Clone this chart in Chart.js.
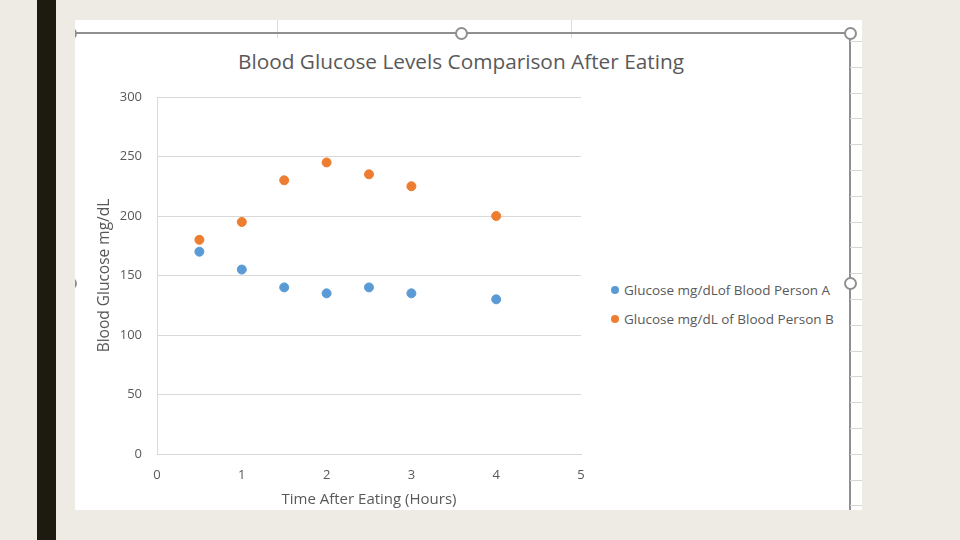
<!DOCTYPE html>
<html>
<head>
<meta charset="utf-8">
<script src="https://cdn.jsdelivr.net/npm/chart.js@4.4.1/dist/chart.umd.min.js"></script>
<style>
  html, body { margin: 0; padding: 0; }
  body { width: 960px; height: 540px; background: #eeebe4; position: relative; overflow: hidden; font-family: "Open Sans", sans-serif; }
  #bar { position: absolute; left: 37px; top: 0; width: 19px; height: 540px; background: #1b1b0f; }
  #sheet { position: absolute; left: 75px; top: 20px; width: 787px; height: 490px; background: #fff; overflow: hidden; }
  .cellv { position: absolute; top: 0; width: 1px; height: 18px; background: #dcdcdc; }
  .cellh { position: absolute; left: 775px; width: 12px; height: 1px; background: #d6d6d6; }
  #frameTop { position: absolute; left: 0; top: 12px; width: 775px; height: 2px; background: #8f8f8f; }
  #frameRight { position: absolute; left: 774px; top: 13px; width: 2px; height: 480px; background: #8f8f8f; }
  .handle { position: absolute; width: 9px; height: 9px; border: 2px solid #8f8f8f; border-radius: 50%; background: #fff; }
  #title { position: absolute; left: 0; width: 922px; top: 47px; text-align: center; font-size: 20.8px; color: #595959; white-space: nowrap; }
  #legend { position: absolute; left: 611px; top: 279px; font-size: 13.5px; color: #595959; }
  #legend div { height: 29px; line-height: 22px; white-space: nowrap; }
  #legend span { display: inline-block; width: 8px; height: 8px; border-radius: 50%; margin-right: 5px; vertical-align: 1px; }
  #c { position: absolute; left: 0; top: 0; }
</style>
</head>
<body>
<div id="bar"></div>
<div id="sheet">
  <div class="cellv" style="left:202px"></div>
  <div class="cellv" style="left:496px"></div>
  <div id="frameTop"></div>
  <div id="frameRight"></div>
</div>
<div id="title">Blood Glucose Levels Comparison After Eating</div>
<div id="legend"></div>
<canvas id="c" width="960" height="540"></canvas>
<script>
// readings taken off the chart
const hours = [0.5, 1, 1.5, 2, 2.5, 3, 4];
const personA = [170, 155, 140, 135, 140, 135, 130];
const personB = [180, 195, 230, 245, 235, 225, 200];
const seriesNames = ["Glucose mg/dLof Blood Person A", "Glucose mg/dL of Blood Person B"];
const seriesColors = ["#5b9bd5", "#ed7d31"];
const xTicks = [0, 1, 2, 3, 4, 5];
const yTicks = [0, 50, 100, 150, 200, 250, 300];

// spreadsheet rows peeking out on the right, and selection handles
var sheet = document.getElementById("sheet");
for (var y = 21; y < 490; y += 25.8) {
  var d = document.createElement("div");
  d.className = "cellh";
  d.style.top = Math.round(y) + "px";
  sheet.appendChild(d);
}
[[-11, 7], [380, 7], [769, 7], [769, 257], [-11, 257]].forEach(function(p) {
  var h = document.createElement("div");
  h.className = "handle";
  h.style.left = p[0] + "px";
  h.style.top = p[1] + "px";
  sheet.appendChild(h);
});

var legend = document.getElementById("legend");
seriesNames.forEach(function(name, i) {
  var row = document.createElement("div");
  row.innerHTML = '<span style="background:' + seriesColors[i] + '"></span>' + name;
  legend.appendChild(row);
});

function pts(ys) {
  return hours.map(function(h, i) { return {x: h, y: ys[i]}; });
}

var tickFont = {family: "Open Sans", size: 13};
var titleFont = {family: "Open Sans", size: 15};

new Chart(document.getElementById("c"), {
  type: "scatter",
  data: {
    datasets: [
      {label: seriesNames[0], data: pts(personA), backgroundColor: seriesColors[0], borderColor: seriesColors[0], pointRadius: 4.5, pointHoverRadius: 4.5},
      {label: seriesNames[1], data: pts(personB), backgroundColor: seriesColors[1], borderColor: seriesColors[1], pointRadius: 4.5, pointHoverRadius: 4.5}
    ]
  },
  options: {
    responsive: false,
    animation: false,
    layout: {padding: {left: 91, right: 379, top: 97, bottom: 31}},
    plugins: {legend: {display: false}, tooltip: {enabled: false}},
    scales: {
      x: {
        type: "linear", min: xTicks[0], max: xTicks[xTicks.length - 1],
        afterBuildTicks: function(s) { s.ticks = xTicks.map(function(v) { return {value: v}; }); },
        afterFit: function(s) { s.height = 55; },
        ticks: {color: "#595959", font: tickFont, padding: 13},
        grid: {display: false, drawTicks: false},
        border: {display: true, color: "#d9d9d9"},
        title: {display: true, text: "Time After Eating (Hours)", color: "#595959", font: titleFont, padding: {top: 0, bottom: 0}}
      },
      y: {
        min: yTicks[0], max: yTicks[yTicks.length - 1],
        afterBuildTicks: function(s) { s.ticks = yTicks.map(function(v) { return {value: v}; }); },
        afterFit: function(s) { s.width = 66; },
        ticks: {color: "#595959", font: tickFont, padding: 15},
        grid: {color: "#d9d9d9", drawTicks: false},
        border: {display: true, color: "#d9d9d9"},
        title: {display: true, text: "Blood Glucose mg/dL", color: "#595959", font: {family: "Open Sans", size: 15.5}, padding: {top: 4, bottom: 4}}
      }
    }
  }
});
</script>
</body>
</html>
